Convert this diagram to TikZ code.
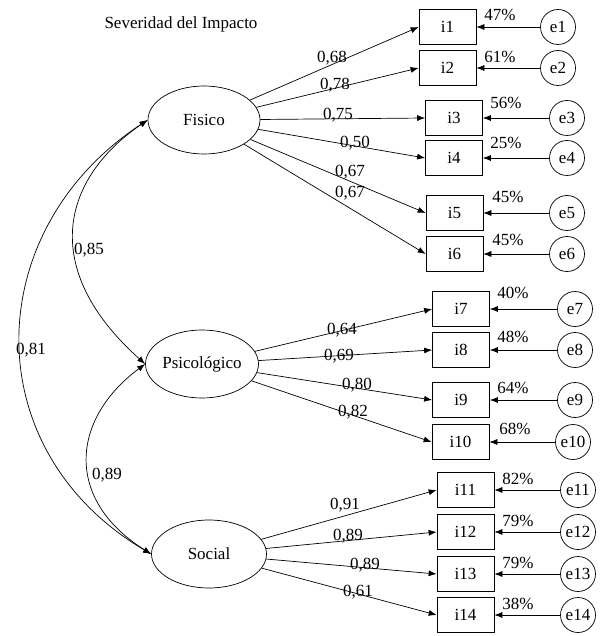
\documentclass[tikz,border=0pt]{standalone}
\usepackage{fontspec}
\setmainfont{Liberation Serif}
\usetikzlibrary{shapes.geometric,arrows.meta}
\begin{document}
\begin{tikzpicture}[x=1pt,y=-1pt,
  every node/.style={font=\fontsize{17}{19}\selectfont},
  latent/.style={draw, ellipse, minimum width=112pt, minimum height=68pt, inner sep=0pt, line width=0.7pt},
  ind/.style={draw, rectangle, minimum width=57pt, minimum height=35pt, inner sep=0pt, line width=0.7pt},
  err/.style={draw, circle, minimum size=35pt, inner sep=0pt, line width=0.7pt},
  lbl/.style={inner sep=1pt},
  load/.style={-{Latex[length=8pt,width=6pt]}, line width=0.7pt},
  cov/.style={{Latex[length=8pt,width=6pt]}-{Latex[length=8pt,width=6pt]}, line width=0.7pt},
]
\useasboundingbox (0,0) rectangle (599,636);

\node[lbl] (title) at (181,24) {Severidad del Impacto};

% latent variables
\node[latent] (F) at (204,120) {Fisico};
\node[latent, minimum width=113pt] (P) at (202,364) {Psicológico};
\node[latent, minimum width=115pt] (S) at (209,554) {Social};

% indicators
\node[ind] (i1) at (447.5,27) {i1};
\node[ind] (i2) at (447.5,68) {i2};
\node[ind] (i3) at (454,118) {i3};
\node[ind] (i4) at (454,158) {i4};
\node[ind] (i5) at (454.5,213) {i5};
\node[ind] (i6) at (454.5,254) {i6};
\node[ind] (i7) at (461,309) {i7};
\node[ind] (i8) at (461,350) {i8};
\node[ind] (i9) at (461,400) {i9};
\node[ind] (i10) at (460.5,442) {i10};
\node[ind] (i11) at (465.5,490) {i11};
\node[ind] (i12) at (465.5,532) {i12};
\node[ind] (i13) at (465.5,574) {i13};
\node[ind] (i14) at (465.5,615) {i14};

% errors
\node[err] (e1) at (558,27) {e1};
\node[err] (e2) at (558,68) {e2};
\node[err] (e3) at (567,118) {e3};
\node[err] (e4) at (567,158) {e4};
\node[err] (e5) at (567,213) {e5};
\node[err] (e6) at (567,254) {e6};
\node[err] (e7) at (575,309) {e7};
\node[err] (e8) at (575,350) {e8};
\node[err] (e9) at (575,400) {e9};
\node[err] (e10) at (573,442) {e10};
\node[err] (e11) at (578,490) {e11};
\node[err] (e12) at (578,532) {e12};
\node[err] (e13) at (578,574) {e13};
\node[err] (e14) at (578,615) {e14};

% error arrows
\foreach \k in {1,...,14} { \draw[load] (e\k.west) -- (i\k.east); }

% percentages
\node[lbl] (r1) at (500,15) {47\%};
\node[lbl] (r2) at (500,57) {61\%};
\node[lbl] (r3) at (506,103) {56\%};
\node[lbl] (r4) at (506,143) {25\%};
\node[lbl] (r5) at (508,197) {45\%};
\node[lbl] (r6) at (508,240) {45\%};
\node[lbl] (r7) at (513,293) {40\%};
\node[lbl] (r8) at (513,337) {48\%};
\node[lbl] (r9) at (513,388) {64\%};
\node[lbl] (r10) at (515,429) {68\%};
\node[lbl] (r11) at (518,479) {82\%};
\node[lbl] (r12) at (518,521) {79\%};
\node[lbl] (r13) at (518,563) {79\%};
\node[lbl] (r14) at (518,604) {38\%};

% loadings
\foreach \k in {1,...,6} { \draw[load] (F) -- (i\k.west); }
\foreach \k in {7,...,10} { \draw[load] (P) -- (i\k.west); }
\foreach \k in {11,...,14} { \draw[load] (S) -- (i\k.west); }

\node[lbl] (l1) at (332,58) {0,68};
\node[lbl] (l2) at (335,85) {0,78};
\node[lbl] (l3) at (338,115) {0,75};
\node[lbl] (l4) at (355,143) {0,50};
\node[lbl] (l5) at (350,172) {0,67};
\node[lbl] (l6) at (350,193) {0,67};
\node[lbl] (l7) at (342,330) {0,64};
\node[lbl] (l8) at (339,356) {0,69};
\node[lbl] (l9) at (357,385) {0,80};
\node[lbl] (l10) at (353,412) {0,82};
\node[lbl] (l11) at (345,505) {0,91};
\node[lbl] (l12) at (348,536) {0,89};
\node[lbl] (l13) at (365,565) {0,89};
\node[lbl] (l14) at (358,592) {0,61};

% covariances
\draw[cov] (F.west) .. controls (60,180) and (40,270) .. (P.west);
\draw[cov] (F.west) .. controls (-20,230) and (-25,450) .. (S.west);
\draw[cov] (P.west) .. controls (70,420) and (65,500) .. (S.west);

\node[lbl] (c1) at (89,250) {0,85};
\node[lbl] (c2) at (31,350) {0,81};
\node[lbl] (c3) at (107,475) {0,89};
\end{tikzpicture}
\end{document}
